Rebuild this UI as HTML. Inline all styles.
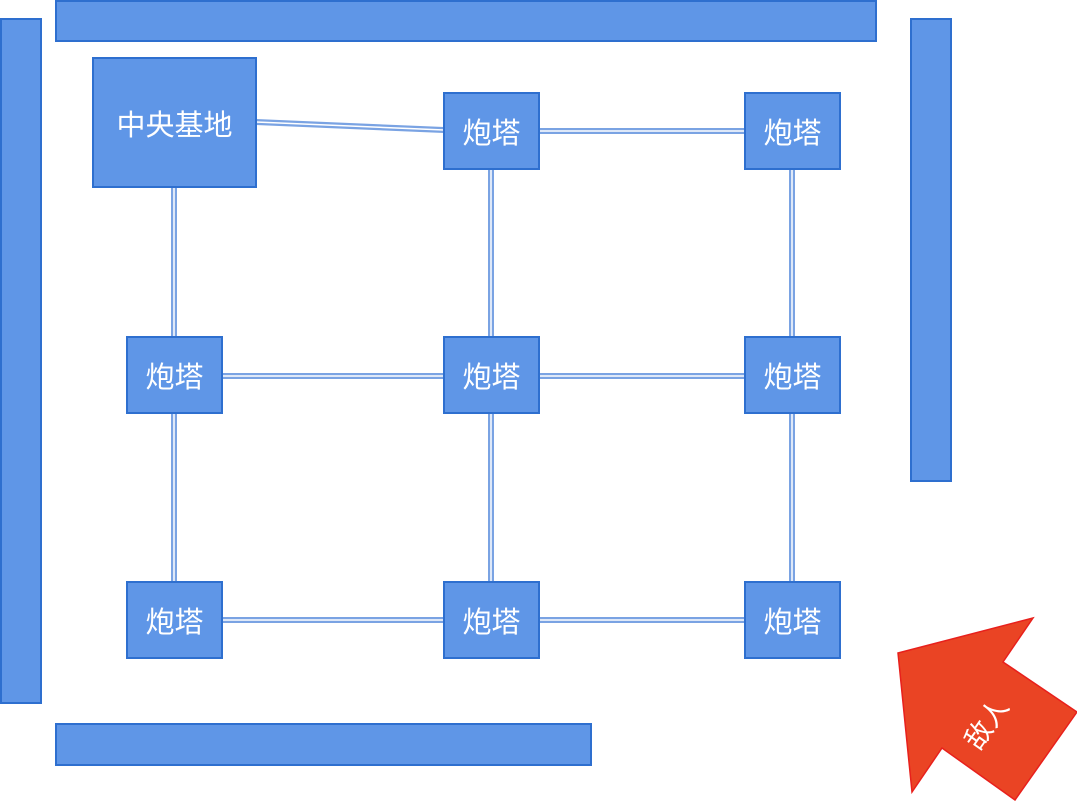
<!DOCTYPE html>
<html><head><meta charset="utf-8"><style>
body{margin:0;width:1077px;height:801px;background:#fff;overflow:hidden;position:relative;font-family:"Liberation Sans","Noto Sans CJK SC",sans-serif}
.b{position:absolute;background:#5f96e7;border:2px solid #2e6fcf;box-sizing:border-box;color:#fff;display:flex;align-items:center;justify-content:center;font-size:29px}
svg{position:absolute;left:0;top:0}
</style></head><body>
<svg width="1077" height="801">
<g fill="none" stroke-linecap="butt">
<g stroke="#7aa3e3" stroke-width="6">
<path d="M256 122L444 130M539 131H745M174 187V337M491 169V337M792 169V337M222 376H444M539 376H745M174 413V582M491 413V582M792 413V582M222 620H444M539 620H745"/>
</g>
<g stroke="#fff" stroke-width="1.5">
<path d="M256 122L444 130M539 131H745M174 187V337M491 169V337M792 169V337M222 376H444M539 376H745M174 413V582M491 413V582M792 413V582M222 620H444M539 620H745"/>
</g>
</g>
<polygon points="898,653 1033,618 1003,662 1077,712 1015,800 942,748 912,792" fill="#ea4424" stroke="#e8201c" stroke-width="1.5"/>
<text x="0" y="0" transform="translate(987,724) rotate(-55)" fill="#fff" font-size="27" text-anchor="middle" dominant-baseline="central" font-family="Liberation Sans, Noto Sans CJK SC, sans-serif">敌人</text>
</svg>
<div class="b" style="left:0px;top:18px;width:42px;height:686px"></div>
<div class="b" style="left:55px;top:0px;width:822px;height:42px"></div>
<div class="b" style="left:910px;top:18px;width:42px;height:464px"></div>
<div class="b" style="left:55px;top:723px;width:537px;height:43px"></div>
<div class="b" style="left:92px;top:57px;width:165px;height:131px">中央基地</div>
<div class="b" style="left:443px;top:92px;width:97px;height:78px">炮塔</div>
<div class="b" style="left:744px;top:92px;width:97px;height:78px">炮塔</div>
<div class="b" style="left:126px;top:336px;width:97px;height:78px">炮塔</div>
<div class="b" style="left:443px;top:336px;width:97px;height:78px">炮塔</div>
<div class="b" style="left:744px;top:336px;width:97px;height:78px">炮塔</div>
<div class="b" style="left:126px;top:581px;width:97px;height:78px">炮塔</div>
<div class="b" style="left:443px;top:581px;width:97px;height:78px">炮塔</div>
<div class="b" style="left:744px;top:581px;width:97px;height:78px">炮塔</div>
</body></html>
